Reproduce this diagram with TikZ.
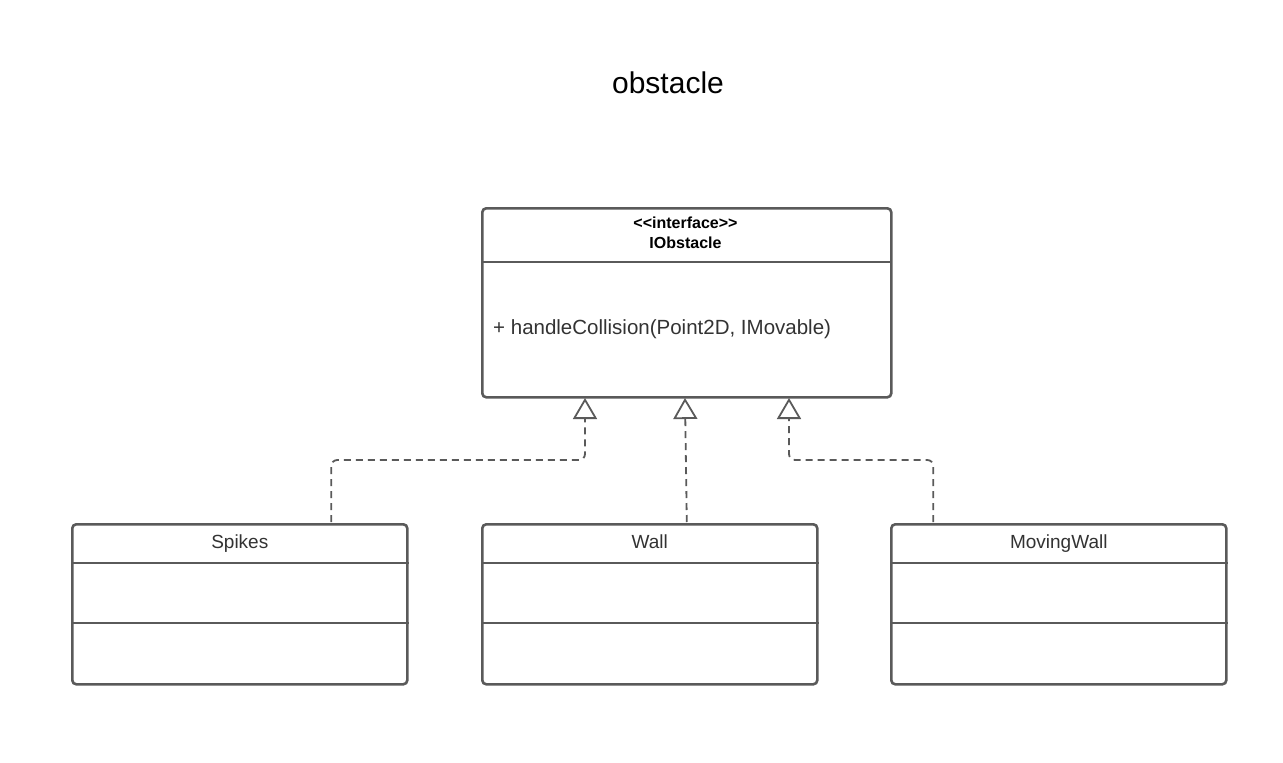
\documentclass[tikz,border=0pt]{standalone}
\usepackage{fontspec}
\setmainfont{Liberation Sans}
\usetikzlibrary{arrows.meta,calc}
\definecolor{lc}{HTML}{5A5A5A}
\definecolor{tc}{HTML}{333333}
\begin{document}
\begin{tikzpicture}[x=1pt,y=-1pt,
  box/.style={draw=lc,line width=2.6pt,rounded corners=4pt,fill=white,anchor=north west,inner sep=0pt},
  div/.style={draw=lc,line width=2.6pt},
  nametext/.style={text=tc,font=\fontsize{19}{22}\selectfont,inner sep=0pt,anchor=base},
  headtext/.style={font=\bfseries\fontsize{16}{20}\selectfont,inner sep=0pt,anchor=base},
  dep/.style={draw=lc,line width=1.8pt,dash pattern=on 7pt off 5pt,rounded corners=6pt,
    -{Triangle[open,length=21pt,width=24pt,line width=1.8pt]}}]
\useasboundingbox (0,0) rectangle (1283,763);
% title
\node[font=\fontsize{30}{34}\selectfont,inner sep=0pt] (title) at (668,83) {obstacle};
% interface
\node[box,minimum width=409pt,minimum height=189pt] (iface) at (481,207) {};
\draw[div] (481,262) -- (890,262);
\node[headtext] (ihead1) at (685.5,228.5) {<{}<interface>{}>};
\node[headtext] (ihead2) at (685.5,248.5) {IObstacle};
\node[text=tc,font=\fontsize{20.5}{24}\selectfont,anchor=base west,inner sep=0pt] (meth) at (493,334) {+ handleCollision(Point2D, IMovable)};
% classes
\node[box,minimum width=335pt,minimum height=160pt] (sp) at (71,523) {};
\node[box,minimum width=335pt,minimum height=160pt] (wa) at (481,523) {};
\node[box,minimum width=335pt,minimum height=160pt] (mw) at (890,523) {};
\foreach \n in {sp,wa,mw}{
  \draw[div] ($(\n.north west)+(0,40)$) -- ($(\n.north east)+(0,40)$);
  \draw[div] ($(\n.north west)+(0,100)$) -- ($(\n.north east)+(0,100)$);
}
\node[nametext] (spn) at ($(sp.north)+(0,25)$) {Spikes};
\node[nametext] (wan) at ($(wa.north)+(0,25)$) {Wall};
\node[nametext] (mwn) at ($(mw.north)+(0,25)$) {MovingWall};
% connectors
\coordinate (t1) at (585,398);
\coordinate (t2) at (685,398);
\coordinate (t3) at (789,398);
\draw[dep] ($(sp.north)+(91.5,-1)$) |- ($(t1)+(0,62)$) -- (t1);
\draw[dep] ($(wa.north)+(37,-1)$) -- (t2);
\draw[dep] ($(mw.north)+(-125.5,-1)$) |- ($(t3)+(0,62)$) -- (t3);
\end{tikzpicture}
\end{document}
